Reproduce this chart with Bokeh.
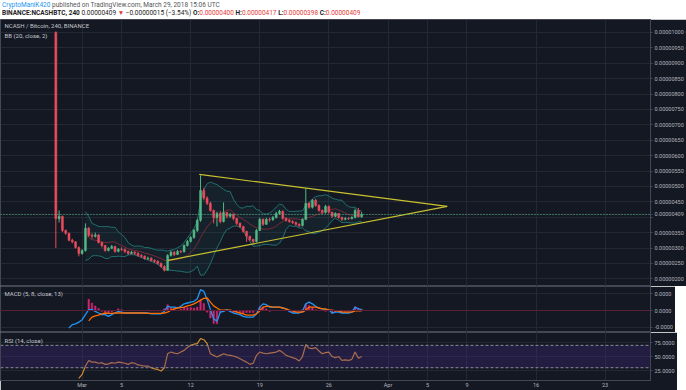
import numpy as np
import pandas as pd
from bokeh.plotting import figure
from bokeh.layouts import column
from bokeh.models import (ColumnDataSource, Range1d, LinearAxis, FixedTicker, AllLabels,
                          PrintfTickFormatter, Grid, Label, Span, BoxAnnotation, Div)
from bokeh.embed import file_html
from bokeh.resources import INLINE

NA = float("nan")

# ---------------- data (prices in satoshi = 1e-8 BTC) ----------------
CANDLE_START = "2018-02-26 08:00"
CANDLE_HOURS = 8
FIRST_OPEN = 1000
CLOSE = [395, 403, 357, 348, 325, 320, 302, 282, 292, 364,
         341, 338, 342, 318, 308, 292, 299, 305, 289, 296,
         295, 289, 282, 286, 283, 276, 273, 266, 267, 260,
         257, 250, 240, 228, 276, 286, 279, 289, 288, 308,
         321, 334, 357, 390, 487, 462, 445, 422, 399, 412,
         386, 415, 403, 409, 396, 380, 370, 354, 338, 328,
         321, 357, 393, 377, 393, 392, 399, 412, 419, 396,
         390, 386, 383, 377, 373, 393, 445, 432, 455, 438,
         422, 416, 435, 416, 403, 412, 399, 393, 396, 395,
         399, 422, 402, 409]
HIGH = [1003, 422, 405, 360, 350, 330, 322, 305, 296, 380,
        368, 348, 350, 345, 320, 310, 303, 310, 307, 300,
        302, 298, 292, 291, 290, 286, 280, 276, 272, 270,
        263, 260, 253, 244, 280, 292, 290, 294, 293, 312,
        326, 338, 362, 395, 536, 495, 468, 450, 425, 418,
        420, 448, 418, 414, 412, 398, 383, 372, 356, 340,
        330, 362, 398, 396, 398, 398, 404, 418, 424, 422,
        400, 394, 390, 386, 380, 396, 494, 450, 459, 460,
        442, 425, 440, 438, 418, 416, 414, 402, 400, 400,
        403, 428, 430, 417]
LOW = [300, 383, 352, 343, 322, 315, 298, 273, 278, 288,
       336, 330, 334, 315, 302, 288, 289, 296, 285, 286,
       290, 284, 278, 280, 277, 272, 268, 262, 261, 256,
       252, 246, 236, 224, 226, 272, 274, 277, 283, 285,
       305, 318, 330, 352, 385, 455, 440, 418, 380, 370,
       380, 383, 396, 398, 390, 375, 365, 350, 320, 322,
       315, 318, 355, 372, 375, 385, 388, 396, 408, 392,
       385, 382, 378, 372, 368, 370, 390, 428, 428, 434,
       418, 410, 412, 412, 398, 400, 395, 388, 390, 391,
       393, 396, 399, 398]

# MACD (5, 8, close, 13), satoshi
MACD = [NA, NA, NA, NA, -21, -17, -16, -14, -11, -5,
        1, 1, -1, -3, -5, -5, -7, -5, -3, -1,
        -2, -3, -3, -3, -3, -3, -3, -3, -3, -4,
        -4, -4, -4, -1, 5, 4, 4, 3, 5, 8,
        9, 10, 11, 14, 25, 23, 13, 1, -10, -13,
        -2, -1, 1, -1, -3, -4, -5, -7, -8, -8,
        -8, -4, 4, 8, 7, 4, 4, 4, 4, 3,
        2, -1, -3, -3, -3, -1, 8, 10, 8, 5,
        3, 2, 1, 1, -3, -2, -2, -3, -3, -3,
        -2, 4, 2, 1]
SIGNAL = [NA, NA, NA, NA, NA, NA, NA, NA, NA, NA,
          -12.5, -8, -6.5, -5.5, -4, -3, -3.5, -3.5, -3, -3,
          -3, -3, -3, -3, -3, -3, -3, -3, -3.5, -3.5,
          -3.5, -3.5, -3.5, -3, -2, 0.5, 2, 3, 3.5, 4,
          5.5, 6.5, 8, 10, 12.5, 14.5, 15, 10, 5.5, 3,
          0.5, 0.5, 0.5, 0.5, -0.5, -2, -3, -4, -5.5, -5.5,
          -5.5, -4, -0.5, 4, 5, 5, 4, 4, 4, 3,
          2, 0.5, -0.5, -2, -2, -2, 0.5, 4, 4, 4,
          3, 2, 2, 0.5, 0.5, -0.5, -0.5, -2, -2, -2,
          -2, -0.5, -0.5, -0.5]

# RSI (14, close)
RSI = [NA, NA, NA, NA, NA, NA, NA, 11, 18, 33,
       43, 40, 40, 38, 39, 36, 37, 39, 38, 40,
       39, 38, 36, 39, 38, 35, 34, 33, 33, 30,
       28, 27, 24, 30, 55, 58, 56, 55, 58, 61,
       66, 70, 72, 73, 82, 80, 73, 55, 52, 49,
       52, 55, 53, 52, 51, 49, 46, 43, 40, 36,
       38, 52, 58, 56, 55, 56, 57, 58, 61, 57,
       52, 50, 48, 46, 42, 50, 71, 65, 64, 66,
       60, 55, 57, 58, 50, 48, 50, 43, 44, 43,
       45, 58, 47, 50]

# user-drawn triangle (date, satoshi)
TRI_UPPER_T = ["2018-03-12 20:50", "2018-04-07 00:00"]
TRI_UPPER_P = [539, 435]
TRI_LOWER_T = ["2018-03-09 17:20", "2018-04-07 00:00"]
TRI_LOWER_P = [260, 435]

LAST_PRICE = 409

PRICE_TICKS = [200, 250, 300, 350, 400, 450, 500, 550, 600, 650, 700, 750, 800, 850, 900, 950, 1000]
HIDDEN_PRICE_TICK = 400          # covered by the last-price tag
MACD_TICKS = [-20, 0, 20]
MACD_TICK_LABELS = ["-0.0000", "0.0000", "0.0000"]
RSI_TICKS = [25, 50, 75]
X_TICK_DATES = ["2018-03-01", "2018-03-05", "2018-03-12", "2018-03-19", "2018-03-26",
                "2018-04-01", "2018-04-05", "2018-04-09", "2018-04-16", "2018-04-23"]
X_TICK_LABELS = ["Mar", "5", "12", "19", "26", "Apr", "5", "9", "16", "23"]

# ---------------- styling ----------------
BG = "#141823"
GRID = "#232835"
SEP = "#434854"
TXT = "#b2b5be"
UP = "#53b987"
DN = "#eb4d5c"
FONT = "Roboto"
SAT = 1e-8

FW = 650
H_PRICE, H_MACD, H_RSI = 267, 46, 48

def ms(s):
    return pd.Timestamp(s).value // 10**6

X0, X1 = ms("2018-02-20 17:25"), ms("2018-04-27 14:30")
xr = Range1d(X0, X1)
px_ms = (X1 - X0) / FW

n = len(CLOSE)
t = pd.date_range(CANDLE_START, periods=n, freq=f"{CANDLE_HOURS}h")
tms = (t.values.astype("datetime64[ms]").astype(np.int64)).astype(float)
close = np.array(CLOSE, float) * SAT
high = np.array(HIGH, float) * SAT
low = np.array(LOW, float) * SAT
open_ = np.concatenate([[FIRST_OPEN * SAT], close[:-1]])

# Bollinger bands (20 x 4h bars -> 10 x 8h bars)
k = 240 / (CANDLE_HOURS * 60)
c = pd.Series(close)
bb_n = int(round(20 * k))
mid = c.rolling(bb_n).mean()
sd = c.rolling(bb_n).std(ddof=0)
bb_up, bb_lo = mid + 2 * sd, mid - 2 * sd

macd = np.array(MACD, float) * SAT
sig = np.array(SIGNAL, float) * SAT
hist = macd - sig

tick_ms = [float(ms(s)) for s in X_TICK_DATES]

def base_fig(h, yr):
    f = figure(frame_width=FW, frame_height=h, x_range=xr, y_range=yr,
               x_axis_type=None, y_axis_location="right",
               output_backend="svg", toolbar_location=None,
               background_fill_color=BG, border_fill_color=BG,
               min_border=0, min_border_left=0, min_border_right=0,
               min_border_top=0, min_border_bottom=0,
               outline_line_color=SEP)
    f.add_layout(Grid(dimension=0, ticker=FixedTicker(ticks=tick_ms),
                      grid_line_color=GRID))
    f.ygrid.grid_line_color = GRID
    ax = f.yaxis[0]
    ax.axis_line_color = SEP
    ax.major_tick_line_color = SEP
    ax.minor_tick_line_color = None
    ax.major_tick_out = 2
    ax.major_tick_in = 0
    ax.major_label_standoff = 2
    ax.major_label_policy = AllLabels()
    ax.major_label_text_color = TXT
    ax.major_label_text_font = FONT
    ax.major_label_text_font_size = "5.5px"
    return f

def label(f, xpx, ypx_from_top, text, yr, h, size="6px", color="#c3c6ce"):
    y = yr.end - ypx_from_top / h * (yr.end - yr.start)
    f.add_layout(Label(x=X0 + xpx * px_ms, y=y, text=text, text_color=color,
                       text_font=FONT, text_font_size=size,
                       text_baseline="middle", text_align="left"))

# ---------------- price pane ----------------
pr = Range1d(175 * SAT, 1042 * SAT)
p = base_fig(H_PRICE, pr)
p.yaxis.ticker = FixedTicker(ticks=[v * SAT for v in PRICE_TICKS + [LAST_PRICE]])
p.yaxis.formatter = PrintfTickFormatter(format="%.8f")
p.yaxis.major_label_overrides = {HIDDEN_PRICE_TICK * SAT: ""}

bb_src = ColumnDataSource(dict(t=tms[bb_n - 1:], up=bb_up[bb_n - 1:], lo=bb_lo[bb_n - 1:],
                               mid=mid[bb_n - 1:]))
p.varea(x="t", y1="lo", y2="up", source=bb_src, fill_color="#26a69a", fill_alpha=0.07)
p.line(x="t", y="up", source=bb_src, line_color="#21706f", line_width=1)
p.line(x="t", y="lo", source=bb_src, line_color="#21706f", line_width=1)
p.line(x="t", y="mid", source=bb_src, line_color="#7a2a36", line_width=1)

inc = close >= open_
cols = np.where(inc, UP, DN)
csrc = ColumnDataSource(dict(t=tms, h=high, l=low,
                             top=np.maximum(open_, close), bot=np.minimum(open_, close),
                             col=cols))
p.segment(x0="t", y0="h", x1="t", y1="l", source=csrc, line_color="col", line_width=1)
p.vbar(x="t", top="top", bottom="bot", width=CANDLE_HOURS * 3600e3 * 0.6, source=csrc,
       fill_color="col", line_color="col", line_width=0.5)

p.line(x=[float(ms(s)) for s in TRI_UPPER_T], y=[v * SAT for v in TRI_UPPER_P],
       line_color="#c9c22e", line_width=1.2)
p.line(x=[float(ms(s)) for s in TRI_LOWER_T], y=[v * SAT for v in TRI_LOWER_P],
       line_color="#c9c22e", line_width=1.2)

p.add_layout(Span(location=LAST_PRICE * SAT, dimension="width", line_color=UP,
                  line_dash="1 2", line_width=1))

label(p, 4, 6, "NCASH / Bitcoin, 240, BINANCE", pr, H_PRICE)
label(p, 4, 16, "BB (20, close, 2)", pr, H_PRICE)

# ---------------- MACD pane ----------------
mr = Range1d(-26.4 * SAT, 28.8 * SAT)
m = base_fig(H_MACD, mr)
macd_ticks = [v * SAT for v in MACD_TICKS]
m.yaxis.ticker = FixedTicker(ticks=macd_ticks)
m.yaxis.major_label_overrides = {tk: lb for tk, lb in zip(macd_ticks, MACD_TICK_LABELS)}
m.add_layout(Span(location=0, dimension="width", line_color="#5a1f35", line_width=1))
hsrc = ColumnDataSource(dict(t=tms, h=hist, z=np.zeros(n)))
m.vbar(x="t", top="h", bottom="z", width=CANDLE_HOURS * 3600e3 * 0.45, source=hsrc,
       fill_color="#e0287a", line_color="#e0287a", line_width=0.5, alpha=0.9)
m.line(x=tms, y=macd, line_color="#2196f3", line_width=1.3)
m.line(x=tms, y=sig, line_color="#ff6d00", line_width=1.3)
label(m, 4, 7, "MACD (5, 8, close, 13)", mr, H_MACD)

# ---------------- RSI pane ----------------
rr = Range1d(7.2, 92.9)
r = base_fig(H_RSI, rr)
r.yaxis.ticker = FixedTicker(ticks=RSI_TICKS)
r.yaxis.formatter = PrintfTickFormatter(format="%.4f")
r.add_layout(BoxAnnotation(bottom=30, top=70, fill_color="#4a2a8a", fill_alpha=0.3,
                           line_color=None))
for lv in (30, 70):
    r.add_layout(Span(location=lv, dimension="width", line_color="#8a8d96",
                      line_dash="3 2", line_width=1))
r.line(x=tms, y=np.array(RSI, float), line_color="#d38a32", line_width=1.2)
label(r, 4, 8, "RSI (14, close)", rr, H_RSI)

xa = LinearAxis(ticker=FixedTicker(ticks=tick_ms),
                major_label_overrides={tk: lb for tk, lb in zip(tick_ms, X_TICK_LABELS)})
xa.axis_line_color = SEP
xa.major_tick_line_color = None
xa.minor_tick_line_color = None
xa.major_tick_out = 0
xa.major_label_standoff = 1
xa.major_label_policy = AllLabels()
xa.major_label_text_color = TXT
xa.major_label_text_font = FONT
xa.major_label_text_font_size = "5.5px"
r.add_layout(xa, "below")

# ---------------- header ----------------
header = Div(width=684, height=19, margin=(0, 0, 0, 0), text=(
    "<div style=\"font-family:Roboto;font-size:6.5px;line-height:8px;color:#555;"
    "white-space:nowrap;padding-top:1px;padding-left:2px\">"
    "<span style=\"color:#2196f3\">CryptoManiK420</span> published on TradingView.com, "
    "March 29, 2018 15:06 UTC<br>"
    "<span style=\"color:#222;font-weight:bold\">BINANCE:NCASHBTC, 240</span> "
    "<span style=\"color:#222\">0.00000409</span> <span style=\"color:#e53935\">&#9660;</span> "
    "<span style=\"color:#222\">&minus;0.00000015 (&minus;3.54%)</span> "
    "<b style=\"color:#222\">O:</b><span style=\"color:#e53935\">0.00000400</span> "
    "<b style=\"color:#222\">H:</b><span style=\"color:#e53935\">0.00000417</span> "
    "<b style=\"color:#222\">L:</b><span style=\"color:#e53935\">0.00000398</span> "
    "<b style=\"color:#222\">C:</b><span style=\"color:#e53935\">0.00000409</span>"
    "</div>"))

layout = column(header, p, m, r, spacing=0)
open("out.html", "w").write(file_html(layout, INLINE))
